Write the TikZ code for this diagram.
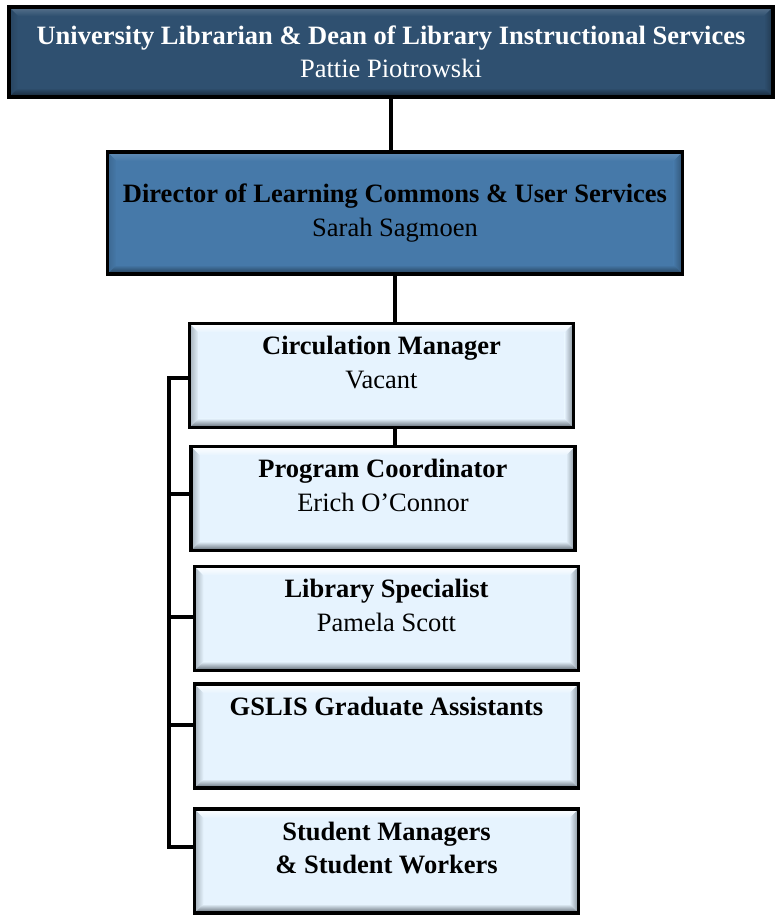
\documentclass[tikz,border=0pt]{standalone}
\usepackage{fontspec}
\setmainfont{Liberation Serif}
\usetikzlibrary{shapes,arrows}

\definecolor{deanblue}{HTML}{2F5070}
\definecolor{dirblue}{HTML}{4679A9}
\definecolor{staffblue}{HTML}{E6F3FE}
\definecolor{staffside}{HTML}{A3AFB9}
\definecolor{staffright}{HTML}{87929C}
\definecolor{staffbottom}{HTML}{5C666F}

% fill, top, left, right, bottom
\newcommand\bevel[5]{%
  \coordinate (bw) at (path picture bounding box.south west);
  \coordinate (be) at (path picture bounding box.north east);
  \shade[top color=#2, bottom color=#1] (bw |- be) -- (be) -- ++(-9pt,-9pt) -- ([shift={(9pt,-9pt)}]bw |- be) -- cycle;
  \shade[left color=#3, right color=#1] (bw) -- (bw |- be) -- ++(9pt,-9pt) -- ([shift={(9pt,9pt)}]bw) -- cycle;
  \shade[left color=#1, right color=#4] (be) -- (be |- bw) -- ++(-9pt,9pt) -- ([shift={(-9pt,-9pt)}]be) -- cycle;
  \shade[top color=#1, bottom color=#5] (bw) -- (be |- bw) -- ++(-9pt,9pt) -- ([shift={(9pt,9pt)}]bw) -- cycle;
}

\begin{document}
\begin{tikzpicture}[x=1pt, y=-1pt, line width=4pt,
	every node/.style={draw, line width=3.5pt, inner sep=0pt, align=center, font=\fontsize{26.5}{33.5}\selectfont},
	deanbox/.style={fill=deanblue, text=white, minimum width=764pt, minimum height=90pt,
		path picture={\bevel{deanblue}{deanblue!80!white}{deanblue!85!black}{deanblue!70!black}{deanblue!45!black}}},
	dirbox/.style={fill=dirblue, minimum width=575pt, minimum height=122pt,
		path picture={\bevel{dirblue}{dirblue!85!white}{dirblue!85!black}{dirblue!70!black}{dirblue!50!black}}},
	staffbox/.style={fill=staffblue, minimum width=384pt, minimum height=104pt,
		path picture={\bevel{staffblue}{white}{staffside}{staffright}{staffbottom}}}]
	
		\useasboundingbox (0,0) rectangle (777,916);
	
		\node (dean) [deanbox] at (391,52) {\textbf{University Librarian \& Dean of Library Instructional Services}\\Pattie Piotrowski};
		\node (dir) [dirbox] at (395,213) {\textbf{Director of Learning Commons \& User Services}\\Sarah Sagmoen};
		\node (circ) [staffbox] at (381.5,375.5) {\textbf{Circulation Manager}\\Vacant\\[-17pt]\strut};
		\node (prog) [staffbox] at (383,498.5) {\textbf{Program Coordinator}\\Erich O’Connor\\[-17pt]\strut};
		\node (lib) [staffbox] at (386.5,618.5) {\textbf{Library Specialist}\\Pamela Scott\\[-17pt]\strut};
		\node (gslis) [staffbox] at (386.5,736) {\textbf{GSLIS Graduate Assistants}\\\strut\\[-17pt]\strut};
		\node (stud) [staffbox] at (386.5,861) {\textbf{Student Managers}\\\textbf{\& Student Workers}\\[-17pt]\strut};
		
		\coordinate (bus) at (169,378);
		
		\draw (dean.south) -- (dean.south |- dir.north);
		\draw (dir.south) -- (dir.south |- circ.north);
		\draw (circ.south -| dir.south) -- (prog.north -| dir.south);
		\draw (circ.west |- bus) -- (bus) |- ([yshift=14pt]stud.west);
		\draw ([yshift=5pt]prog.west) -- ([yshift=5pt]prog.west -| bus);
		\draw ([yshift=2pt]lib.west) -- ([yshift=2pt]lib.west -| bus);
		\draw ([yshift=11pt]gslis.west) -- ([yshift=11pt]gslis.west -| bus);
		
	\end{tikzpicture}
\end{document}
